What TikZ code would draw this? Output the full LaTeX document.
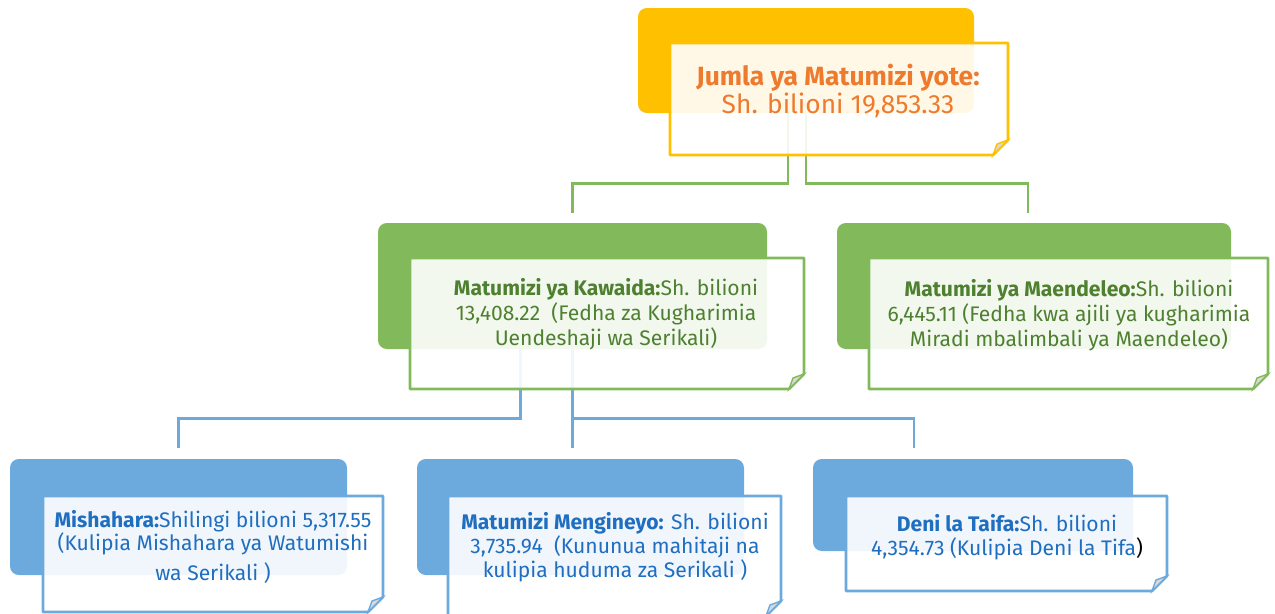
\documentclass[tikz,border=0pt]{standalone}
\usepackage{fontspec}
\setmainfont{Fira Sans}
\usetikzlibrary{fit}

\definecolor{gold}{HTML}{FFC000}
\definecolor{orng}{HTML}{EE7A2E}
\definecolor{grn}{HTML}{82B95A}
\definecolor{grntxt}{HTML}{4E8030}
\definecolor{blu}{HTML}{6CA9DD}
\definecolor{blutxt}{HTML}{1F6EC0}

\newcommand{\notebox}[5]{%
  \fill[white, fill opacity=0.9] (#2,#3) rectangle (#4,#5);
  \draw[#1, line width=1.5pt, line join=round] (#2,#3) -- (#4,#3) -- (#4,#5-15) -- (#4-15,#5) -- (#2,#5) -- cycle;
  \filldraw[draw=#1, fill=black!15, line width=0.8pt] (#4,#5-15) -- (#4-15,#5) -- (#4-11,#5-11) -- cycle;
}

\begin{document}
\begin{tikzpicture}[x=0.02cm, y=-0.02cm,
  block/.style={rounded corners=5pt, inner sep=0pt, draw=none},
  yblock/.style={block, fill=gold},
  gblock/.style={block, fill=grn},
  bblock/.style={block, fill=blu},
  gline/.style={grn, line width=1.5pt},
  bline/.style={blu, line width=1.5pt},
  txt/.style={align=center, inner sep=0pt}]
  \useasboundingbox (0,0) rectangle (1275,613);

  \node[yblock, fit={(638,8) (974,113)}] (jumla) {};
  \node[gblock, fit={(378,223) (767,349)}] (kawaida) {};
  \node[gblock, fit={(837,223) (1231,349)}] (maendeleo) {};
  \node[bblock, fit={(10,459) (347,575)}] (mishahara) {};
  \node[bblock, fit={(417,459) (744,575)}] (mengineyo) {};
  \node[bblock, fit={(813,459) (1133,551)}] (deni) {};

  \draw[gline] ([xshift=-0.36cm]jumla.south) -- ++(0,70) -| ([yshift=0.2cm]kawaida.north);
  \draw[gline] (jumla.south) -- ++(0,70) -| ([xshift=-0.12cm, yshift=0.2cm]maendeleo.north);
  \draw[bline] ([xshift=-1.04cm]kawaida.south) -- ++(0,69) -| ([yshift=0.22cm]mishahara.north);
  \draw[bline] (kawaida.south) -- ([yshift=0.22cm]kawaida.south |- mengineyo.north);
  \draw[bline] (kawaida.south) ++(0,69) -| ([xshift=-1.18cm, yshift=0.22cm]deni.north);

  \notebox{gold}{670}{43}{1008}{155}
  \notebox{grn}{410}{258}{804}{389}
  \notebox{grn}{869}{258}{1268}{389}
  \notebox{blu}{43}{496}{383}{612}
  \notebox{blu}{448}{496}{781}{616}
  \notebox{blu}{846}{496}{1167}{591}

  \node[txt, text=orng, font=\fontsize{15}{16}\selectfont] (jumlaT) at (838,91)
    {{\bfseries Jumla ya Matumizi yote:}\\Sh. bilioni 19,853.33};
  \node[txt, text=grntxt, font=\fontsize{12}{14.2}\selectfont] (kawaidaT) at (606,314)
    {{\bfseries Matumizi ya Kawaida:}Sh. bilioni\\13,408.22~~(Fedha za Kugharimia\\Uendeshaji wa Serikali)};
  \node[txt, text=grntxt, font=\fontsize{12}{14.2}\selectfont] (maendeleoT) at (1069,315)
    {{\bfseries Matumizi ya Maendeleo:}Sh. bilioni\\6,445.11 (Fedha kwa ajili ya kugharimia\\Miradi mbalimbali ya Maendeleo)};
  \node[txt, text=blutxt, font=\fontsize{12}{13}\selectfont] (mishaharaT) at (213,547)
    {{\bfseries Mishahara:}Shilingi bilioni 5,317.55\\(Kulipia Mishahara ya Watumishi\\[4pt]wa Serikali )};
  \node[txt, text=blutxt, font=\fontsize{12}{13.5}\selectfont] (mengineyoT) at (615,547)
    {{\bfseries Matumizi Mengineyo:} Sh. bilioni\\3,735.94~~(Kununua mahitaji na\\kulipia huduma za Serikali )};
  \node[txt, text=blutxt, font=\fontsize{12}{14}\selectfont] (deniT) at (1007,537)
    {{\bfseries Deni la Taifa:}Sh. bilioni\\4,354.73 (Kulipia Deni la Tifa{\color{black})}};
\end{tikzpicture}
\end{document}
